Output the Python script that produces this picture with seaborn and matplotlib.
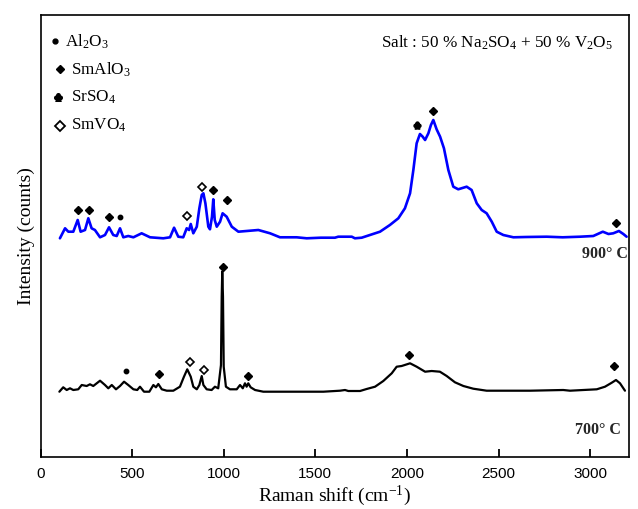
import numpy as np
import pandas as pd
import matplotlib
matplotlib.use("Agg")
import matplotlib.pyplot as plt
import seaborn as sns

# ---------------- data ----------------
# 900 °C spectrum (blue), Raman shift in cm-1 and intensity (arb. offset units)
shift_900 = [106, 134, 152, 179, 203, 219, 243, 261, 279, 297, 325, 352, 374, 397, 416,
             434, 452, 479, 507, 552, 598, 670, 707, 729, 752, 779, 798, 811, 820, 834,
             853, 867, 880, 889, 900, 916, 925, 936, 943, 951, 962, 980, 994, 1016, 1044,
             1080, 1125, 1189, 1253, 1307, 1398, 1453, 1530, 1607, 1625, 1699, 1716, 1753,
             1798, 1853, 1907, 1953, 1989, 2017, 2035, 2053, 2071, 2086, 2099, 2117, 2131,
             2144, 2162, 2181, 2202, 2226, 2253, 2280, 2326, 2353, 2381, 2408, 2435, 2463,
             2490, 2526, 2581, 2650, 2763, 2850, 2945, 3017, 3069, 3100, 3126, 3157, 3181, 3199]
int_900 = [218.7, 228.7, 225.3, 225.3, 237.0, 225.3, 227.0, 238.7, 228.7, 227.0, 219.7,
           222.0, 229.7, 222.0, 221.0, 228.7, 219.7, 221.0, 219.7, 223.7, 219.7, 218.7,
           219.7, 229.3, 220.3, 219.7, 228.7, 227.0, 233.0, 223.7, 230.3, 248.7, 262.0,
           263.7, 253.7, 230.3, 227.7, 240.3, 257.7, 237.0, 230.3, 235.3, 243.7, 240.3,
           230.3, 225.3, 226.0, 227.0, 223.7, 219.7, 219.7, 218.7, 219.3, 219.3, 220.3,
           220.3, 218.7, 219.3, 222.0, 225.3, 232.0, 238.7, 248.7, 263.7, 287.0, 313.7,
           323.0, 320.3, 317.0, 323.7, 332.0, 337.0, 327.7, 320.3, 308.7, 287.0, 270.3,
           267.7, 270.3, 267.0, 253.7, 247.0, 243.7, 235.3, 225.3, 222.0, 219.7, 220.0,
           220.3, 219.7, 220.3, 221.0, 225.3, 223.0, 223.7, 226.0, 223.0, 220.3]

# 700 °C spectrum (black)
shift_700 = [103, 124, 143, 161, 179, 206, 225, 252, 270, 288, 325, 352, 370, 389, 412,
             434, 456, 479, 507, 528, 543, 565, 594, 616, 630, 643, 662, 689, 725, 761,
             783, 801, 820, 834, 853, 867, 880, 889, 907, 934, 952, 970, 985, 989, 992,
             996, 1000, 1012, 1034, 1071, 1089, 1104, 1116, 1125, 1134, 1147, 1171, 1216,
             1544, 1635, 1662, 1680, 1744, 1780, 1826, 1871, 1917, 1944, 1971, 2017, 2053,
             2099, 2135, 2180, 2217, 2262, 2308, 2362, 2435, 2672, 2853, 2890, 3036, 3081,
             3118, 3141, 3163, 3190]
int_700 = [65.3, 69.7, 67.0, 68.7, 67.0, 67.7, 72.0, 71.0, 72.7, 71.0, 76.3, 72.0, 68.7,
           72.0, 67.7, 71.0, 75.3, 72.0, 67.7, 67.0, 70.3, 65.3, 65.3, 72.0, 69.7, 73.0,
           67.7, 66.3, 66.3, 70.3, 80.3, 87.7, 80.3, 70.3, 67.7, 72.0, 81.0, 72.0, 67.7,
           67.0, 70.3, 68.7, 92.0, 160.3, 185.3, 160.3, 90.3, 70.3, 67.7, 67.7, 72.0,
           68.7, 73.7, 70.3, 73.7, 69.7, 67.0, 65.3, 65.3, 66.3, 67.0, 66.0, 66.0, 68.0,
           70.3, 76.0, 83.7, 90.3, 91.0, 93.7, 90.3, 85.3, 86.0, 85.3, 81.0, 74.7, 71.0,
           68.3, 66.3, 66.3, 67.0, 66.3, 67.7, 70.3, 74.3, 77.0, 73.7, 66.3]

# phase markers: (shift, height)
al2o3_x = [434, 467]
al2o3_y = [240.0, 86.3]
smalo3_x = [207, 265, 376, 944, 1016, 2141, 3140, 647, 998, 1131, 2012, 3131]
smalo3_y = [247.0, 247.0, 239.7, 267.3, 256.7, 346.0, 233.7, 83.0, 190.3, 81.3, 102.0, 91.0]
srso4_x = [2053]
srso4_y = [332.0]
smvo4_x = [801, 882, 816, 894]
smvo4_y = [241.0, 270.3, 95.3, 87.3]

legend_labels = ["Al$_2$O$_3$", "SmAlO$_3$", "SrSO$_4$", "SmVO$_4$"]
salt_label = "Salt : 50 % Na$_2$SO$_4$ + 50 % V$_2$O$_5$"
temp_labels = ["900° C", "700° C"]
x_ticks = [0, 500, 1000, 1500, 2000, 2500, 3000]

# ---------------- style ----------------
sns.set_theme(style="white")
plt.rcParams["font.family"] = ["Liberation Serif", "DejaVu Sans"]
plt.rcParams["mathtext.default"] = "regular"

fig = plt.figure(figsize=(6.38, 5.09), dpi=100)
ax = fig.add_axes([40.5 / 638, 52 / 509, 588.5 / 638, 442 / 509])

df900 = pd.DataFrame({"shift": shift_900, "intensity": int_900})
df700 = pd.DataFrame({"shift": shift_700, "intensity": int_700})
sns.lineplot(data=df900, x="shift", y="intensity", sort=False, estimator=None,
             color="#0000ff", lw=1.9, ax=ax)
sns.lineplot(data=df700, x="shift", y="intensity", sort=False, estimator=None,
             color="black", lw=1.6, ax=ax)

# markers on peaks
ax.plot(al2o3_x, al2o3_y, ls="none", marker="o", ms=3.2, color="black")
ax.plot(smalo3_x, smalo3_y, ls="none", marker="D", ms=4, color="black")
ax.plot(srso4_x, srso4_y, ls="none", marker=r"$\clubsuit$", ms=5, color="black")
ax.plot(smvo4_x, smvo4_y, ls="none", marker="D", ms=4.5, mfc="white", mec="black", mew=1.2)

# legend made of symbols + text
leg_tx = [134, 168, 168, 168]
leg_ty = [415, 387, 360, 332]
ax.plot([80], [416], ls="none", marker="o", ms=3.5, color="black")
ax.plot([108], [388], ls="none", marker="D", ms=4.5, color="black")
ax.plot([97], [360], ls="none", marker=r"$\clubsuit$", ms=5.5, color="black")
ax.plot([108], [331], ls="none", marker="D", ms=5, mfc="white", mec="black", mew=1.3)
for tx, ty, lab in zip(leg_tx, leg_ty, legend_labels):
    ax.text(tx, ty, lab, fontsize=12.3, va="center", ha="left", color="black")

ax.text(2490, 414, salt_label, fontsize=12.3, ha="center", va="center", color="black")
ax.text(3205, 203, temp_labels[0], fontsize=11.5, fontweight="bold", ha="right", va="center")
ax.text(3165, 27, temp_labels[1], fontsize=11.5, fontweight="bold", ha="right", va="center")

ax.set_xlim(0, 3212)
ax.set_ylim(0, 442)
ax.set_xticks(x_ticks)
ax.set_xticklabels([str(t) for t in x_ticks], fontfamily="Liberation Sans", fontsize=11)
ax.set_yticks([])
ax.tick_params(axis="x", direction="in", length=6, width=1.3, bottom=True, top=False, pad=7,
               colors="black")
for s in ax.spines.values():
    s.set_visible(True)
    s.set_color("black")
    s.set_linewidth(1.2)
ax.set_xlabel("Raman shift (cm$^{-1}$)", fontsize=14, labelpad=2, color="black")
ax.set_ylabel("Intensity (counts)", fontsize=14, labelpad=4, color="black")
ax.grid(False)

fig.savefig("out.png", dpi=100)
